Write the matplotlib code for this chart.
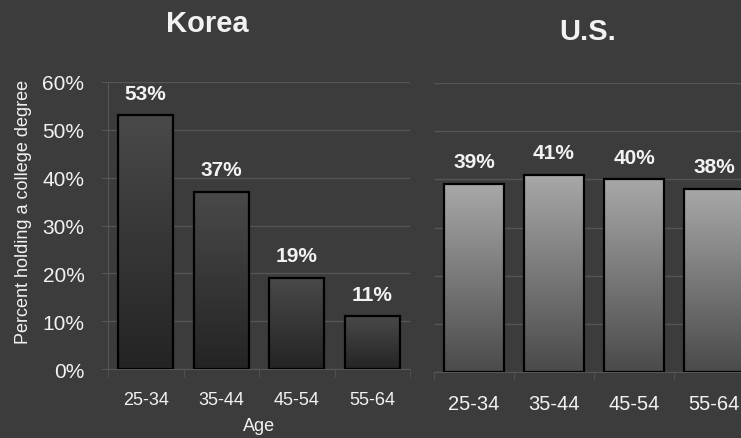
import numpy as np
import matplotlib.pyplot as plt

# data
ages = ['25-34', '35-44', '45-54', '55-64']
korea = [53, 37, 19, 11]
us = [39, 41, 40, 38]
y_ticks = [0, 10, 20, 30, 40, 50, 60]

bg = '#3c3c3c'
txt = '#f2f2f2'
grid_c = '#555555'

plt.rcParams['font.family'] = ['Liberation Sans', 'DejaVu Sans']

fig = plt.figure(figsize=(7.41, 4.39), dpi=100, facecolor=bg)
ax1 = fig.add_axes([108 / 741, 1 - 370 / 439, 302 / 741, 287 / 439])
ax2 = fig.add_axes([434 / 741, 1 - 373 / 439, 320 / 741, 289 / 439])


def gradient_bars(ax, values, width, top_c, bot_c):
    x = np.arange(len(values))
    bars = ax.bar(x, values, width, color='none', edgecolor='black', linewidth=1.6, zorder=3)
    top = np.array(plt.matplotlib.colors.to_rgb(top_c))
    bot = np.array(plt.matplotlib.colors.to_rgb(bot_c))
    t = np.linspace(0, 1, 256)[:, None]
    grad = (bot * (1 - t) + top * t)[:, None, :]
    for b in bars:
        x0, y0 = b.get_x(), b.get_y()
        im = ax.imshow(grad, extent=(x0, x0 + b.get_width(), y0, y0 + b.get_height()),
                       origin='lower', aspect='auto', zorder=2)
        im.set_clip_path(b)
    for xi, v in zip(x, values):
        ax.annotate(f'{v}%', (xi, v), xytext=(0, 16), textcoords='offset points',
                    ha='center', va='center', fontsize=15, fontweight='bold', color=txt)
    return x


for ax, vals, w, top_c, bot_c, xfs in [
        (ax1, korea, 0.73, '#494949', '#242424', 13),
        (ax2, us, 0.74, '#a8a8a8', '#4a4a4a', 14.5)]:
    ax.set_facecolor(bg)
    x = gradient_bars(ax, vals, w, top_c, bot_c)
    ax.set_xlim(-0.5, len(vals) - 0.5)
    ax.set_ylim(0, 60)
    ax.set_yticks(y_ticks)
    ax.yaxis.grid(True, color=grid_c, linewidth=1)
    ax.set_axisbelow(True)
    ax.set_xticks(x)
    ax.set_xticklabels(ages, fontsize=xfs, color=txt)
    ax.set_xticks(np.arange(len(vals) + 1) - 0.5, minor=True)
    ax.tick_params(axis='x', which='major', length=0, pad=16)
    ax.tick_params(axis='x', which='minor', length=6, color=grid_c)
    ax.tick_params(axis='y', length=5, color=grid_c)
    for s in ['top', 'right']:
        ax.spines[s].set_visible(False)
    for s in ['left', 'bottom']:
        ax.spines[s].set_color(grid_c)

ax1.set_yticklabels([f'{v}%' for v in y_ticks], fontsize=15, color=txt)
ax1.tick_params(axis='y', pad=12)
ax1.set_ylabel('Percent holding a college degree', fontsize=13, color=txt, labelpad=10)
ax1.yaxis.set_label_coords(-0.25, 0.552)
ax1.set_xlabel('Age', fontsize=13, color=txt, labelpad=6)
ax2.set_yticklabels([])
ax2.tick_params(axis='y', length=0)
ax2.spines['left'].set_visible(False)

fig.text(207 / 741, 1 - 24 / 439, 'Korea', fontsize=21, fontweight='bold', color=txt,
         ha='center', va='center')
fig.text(588 / 741, 1 - 32 / 439, 'U.S.', fontsize=21, fontweight='bold', color=txt,
         ha='center', va='center')

fig.savefig('out.png', dpi=100, facecolor=bg)
